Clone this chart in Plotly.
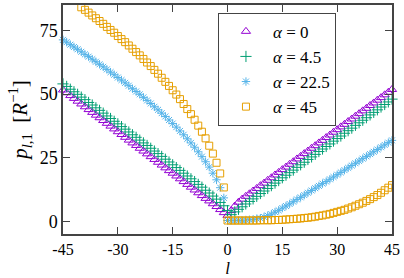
import plotly.graph_objects as go

# ---------------- data ----------------
l_values = [-45, -44, -43, -42, -41, -40, -39, -38, -37, -36, -35, -34, -33, -32, -31,
            -30, -29, -28, -27, -26, -25, -24, -23, -22, -21, -20, -19, -18, -17, -16,
            -15, -14, -13, -12, -11, -10, -9, -8, -7, -6, -5, -4, -3, -2, -1,
            0,
            1, 2, 3, 4, 5, 6, 7, 8, 9, 10, 11, 12, 13, 14, 15,
            16, 17, 18, 19, 20, 21, 22, 23, 24, 25, 26, 27, 28, 29, 30,
            31, 32, 33, 34, 35, 36, 37, 38, 39, 40, 41, 42, 43, 44, 45]

p_alpha_0 = [51.6, 50.5, 49.4, 48.3, 47.2, 46.1, 45.0, 43.9, 42.8, 41.7, 40.7, 39.6, 38.5, 37.4, 36.3,
             35.2, 34.1, 33.0, 31.9, 30.8, 29.8, 28.7, 27.6, 26.5, 25.4, 24.3, 23.2, 22.1, 21.0, 19.9,
             18.9, 17.8, 16.7, 15.6, 14.5, 13.4, 12.3, 11.2, 10.1, 9.0, 8.0, 6.9, 5.8, 4.6, 3.4,
             2.3,
             4.2, 6.0, 7.5, 8.7, 9.8, 10.8, 11.9, 12.9, 14.0, 15.0, 16.1, 17.1, 18.2, 19.2, 20.3,
             21.3, 22.4, 23.4, 24.5, 25.5, 26.6, 27.6, 28.7, 29.7, 30.8, 31.8, 32.9, 33.9, 35.0, 36.0,
             37.1, 38.1, 39.2, 40.2, 41.3, 42.3, 43.4, 44.4, 45.5, 46.5, 47.6, 48.6, 49.7, 50.7, 51.8]

p_alpha_4_5 = [54.0, 53.0, 51.9, 50.9, 49.9, 48.8, 47.8, 46.7, 45.7, 44.6, 43.6, 42.5, 41.4, 40.4, 39.3,
               38.3, 37.2, 36.2, 35.1, 34.0, 33.0, 31.9, 30.8, 29.8, 28.7, 27.6, 26.6, 25.5, 24.4, 23.3,
               22.2, 21.1, 20.0, 18.9, 17.8, 16.7, 15.6, 14.5, 13.4, 12.2, 11.1, 9.9, 8.7, 7.4, 6.1,
               4.2,
               2.6, 3.7, 4.7, 5.7, 6.8, 7.8, 8.8, 9.8, 10.9, 11.9, 12.9, 14.0, 15.0, 16.0, 17.1,
               18.1, 19.1, 20.1, 21.2, 22.2, 23.2, 24.3, 25.3, 26.3, 27.4, 28.4, 29.4, 30.4, 31.5, 32.5,
               33.5, 34.6, 35.6, 36.6, 37.7, 38.7, 39.7, 40.7, 41.8, 42.8, 43.8, 44.9, 45.9, 46.9, 48.0]

p_alpha_22_5 = [71.3, 70.4, 69.4, 68.5, 67.6, 66.6, 65.6, 64.7, 63.7, 62.7, 61.7, 60.7, 59.7, 58.6, 57.6,
                56.5, 55.5, 54.4, 53.3, 52.1, 51.0, 49.9, 48.7, 47.5, 46.3, 45.0, 43.8, 42.5, 41.2, 39.8,
                38.4, 37.0, 35.5, 34.0, 32.4, 30.8, 29.1, 27.3, 25.4, 23.4, 21.3, 18.9, 16.3, 13.2, 9.2,
                0.3,
                0.3, 0.3, 0.4, 0.4, 0.5, 0.6, 0.7, 1.0, 1.2, 1.7, 2.2, 2.8, 3.6, 4.3, 5.2,
                6.0, 6.8, 7.7, 8.6, 9.4, 10.3, 11.2, 12.1, 13.0, 13.9, 14.8, 15.6, 16.5, 17.4, 18.3,
                19.2, 20.1, 21.0, 21.9, 22.8, 23.7, 24.6, 25.5, 26.4, 27.3, 28.2, 29.1, 30.0, 30.9, 31.8]

p_alpha_45 = [89.2, 88.2, 87.2, 86.2, 85.2, 84.1, 83.1, 82.0, 80.9, 79.8, 78.7, 77.6, 76.4, 75.2, 74.1,
              72.8, 71.6, 70.4, 69.1, 67.8, 66.5, 65.2, 63.8, 62.4, 61.0, 59.5, 58.0, 56.4, 54.8, 53.2,
              51.5, 49.8, 48.0, 46.1, 44.1, 42.1, 39.9, 37.6, 35.2, 32.6, 29.7, 26.6, 23.0, 18.8, 13.3,
              0.3,
              0.3, 0.3, 0.3, 0.3, 0.3, 0.3, 0.3, 0.3, 0.4, 0.4, 0.4, 0.4, 0.5, 0.5, 0.6,
              0.7, 0.8, 0.9, 1.0, 1.1, 1.3, 1.4, 1.6, 1.8, 2.1, 2.3, 2.6, 2.9, 3.3, 3.7,
              4.1, 4.5, 5.0, 5.5, 6.1, 6.7, 7.3, 8.0, 8.7, 9.5, 10.3, 11.2, 12.2, 13.2, 14.2]

series_names = ["<i>α</i> = 0", "<i>α</i> = 4.5", "<i>α</i> = 22.5", "<i>α</i> = 45"]
x_tick_vals = [-45, -30, -15, 0, 15, 30, 45]
x_tick_text = ["-45", "-30", "-15", "0", "15", "30", "45"]
y_tick_vals = [0, 25, 50, 75]
y_tick_text = ["0", "25", "50", "75"]

# ---------------- styling ----------------
colors = ["#9400d3", "#009e73", "#56b4e9", "#e69f00"]
symbols = ["triangle-up-open", "cross-thin-open", "asterisk-open", "square-open"]
sizes = [8, 8, 7, 7]
clips = [False, False, False, True]
series_values = [p_alpha_0, p_alpha_4_5, p_alpha_22_5, p_alpha_45]

FONT = "Liberation Serif"

fig = go.Figure()
for i, (name, vals) in enumerate(zip(series_names, series_values)):
    fig.add_trace(go.Scatter(
        x=l_values, y=vals, mode="markers", name=name,
        legendgroup=f"g{i}",
        cliponaxis=clips[i],
        marker=dict(symbol=symbols[i], size=sizes[i], color=colors[i],
                    line=dict(width=1, color=colors[i])),
    ))

axis_common = dict(
    showgrid=False, zeroline=False, showline=True, linecolor="#444", linewidth=1.5,
    mirror="ticks", ticks="inside", ticklen=7, tickwidth=1, tickcolor="#444",
    automargin=False,
)

fig.update_layout(
    width=404, height=278,
    template="none",
    margin=dict(l=63, r=12, t=5, b=44),
    paper_bgcolor="white", plot_bgcolor="white",
    font=dict(family=FONT, color="black"),
    xaxis=dict(range=[-45, 45], tickmode="array", tickvals=x_tick_vals, ticktext=x_tick_text,
               tickfont=dict(family=FONT, size=16, color="black"),
               title=dict(text="<i>l</i>", font=dict(family=FONT, size=17), standoff=16),
               **axis_common),
    yaxis=dict(range=[-5, 85], tickmode="array", tickvals=y_tick_vals, ticktext=y_tick_text,
               tickfont=dict(family=FONT, size=18, color="black"),
               title=dict(text="<i>p</i><sub><i>l</i>,1</sub>  [<i>R</i><sup>−1</sup>]",
                          font=dict(family=FONT, size=21), standoff=6),
               **axis_common),
    legend=dict(x=0.471, y=0.966, xanchor="left", yanchor="top",
                bordercolor="#444", borderwidth=1, bgcolor="white",
                font=dict(family=FONT, size=17), tracegroupgap=0,
                itemwidth=44),
    showlegend=True,
)

fig.write_html("out.html", config={"displayModeBar": False},
               post_script="document.body.style.margin='0';document.body.style.padding='0';")
